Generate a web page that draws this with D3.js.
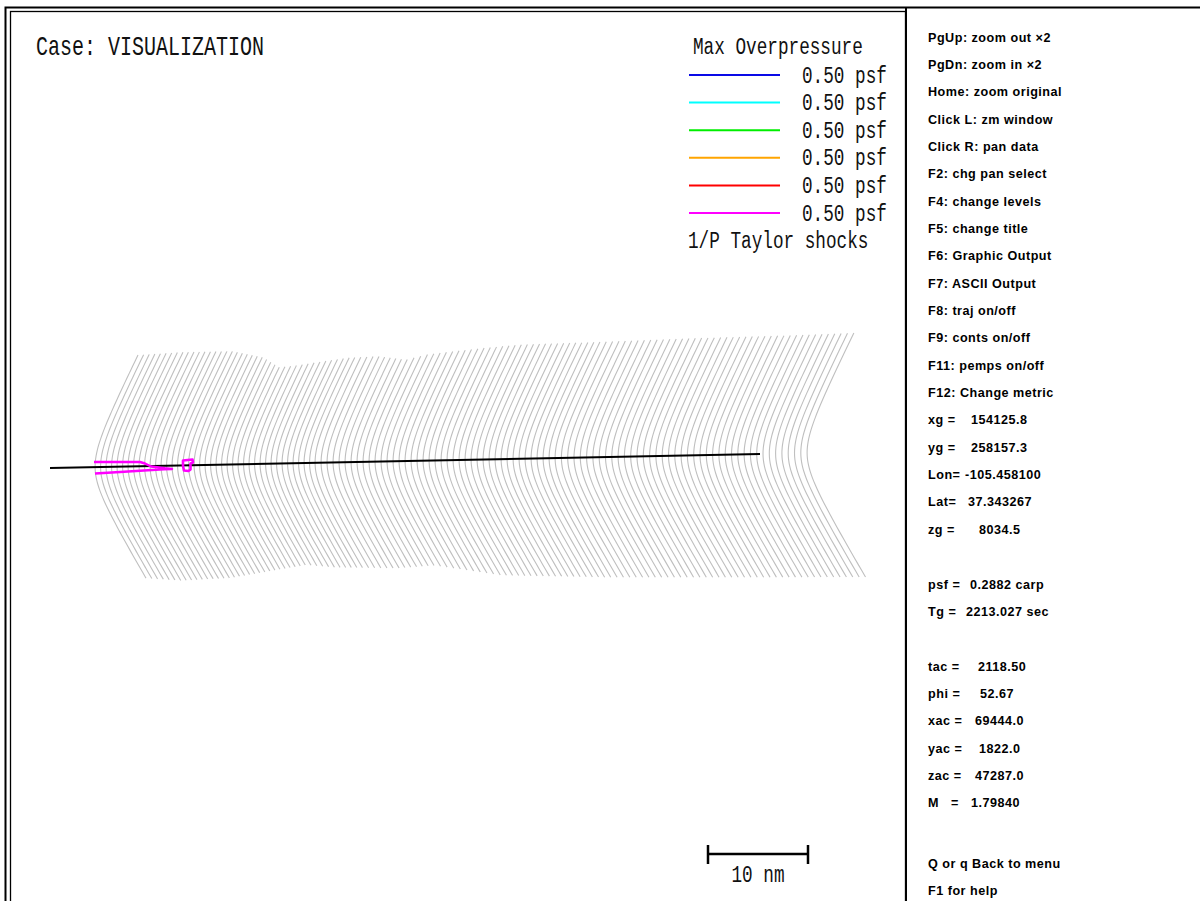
<!DOCTYPE html>
<html>
<head>
<meta charset="utf-8">
<script src="https://cdn.jsdelivr.net/npm/d3@7"></script>
<style>
  html, body { margin: 0; padding: 0; background: #fff; overflow: hidden; }
  .mono { font-family: "Liberation Mono", "DejaVu Sans Mono", monospace; fill: #111; }
  .panel { font-family: "Liberation Sans", Arial, sans-serif; font-weight: bold; font-size: 12.6px; letter-spacing: 0.5px; fill: #000; white-space: pre; }
</style>
</head>
<body>
<svg id="chart" width="1200" height="901"></svg>
<script>
// ---- Case / legend text ----
const caseTitle = "Case: VISUALIZATION";
const legendTitle = "Max Overpressure";
const legendLevels = [0.50, 0.50, 0.50, 0.50, 0.50, 0.50];
const legendColors = ["#0a0ae6", "#00ffff", "#00ee00", "#ffa500", "#ff0000", "#ff00ff"];
const legendFooter = "1/P Taylor shocks";

// ---- Ground track of the aircraft (nm, x east / y north) ----
const trackX = [4.0, 75.0];
const trackY = [-0.3, 1.1];

// ---- Isopemp (shock arrival) curves: along-track position of each vertex, nm ----
const isopempX = [
  8.50, 9.05, 9.60, 10.15, 10.70, 11.25, 11.80, 12.35, 12.90, 13.45,
  14.00, 14.55, 15.10, 15.65, 16.20, 16.75, 17.30, 17.85, 18.40, 18.95,
  19.50, 20.05, 20.60, 21.15, 21.70, 22.25, 22.80, 23.35, 23.90, 24.45,
  25.00, 25.55, 26.10, 26.65, 27.20, 27.75, 28.30, 28.85, 29.40, 29.95,
  30.5, 31.1, 31.7, 32.3, 32.9, 33.5, 34.1, 34.7, 35.3, 35.9,
  36.5, 37.1, 37.7, 38.3, 38.9, 39.5, 40.1, 40.7, 41.3, 41.9,
  42.5, 43.1, 43.7, 44.3, 44.9, 45.5, 46.1, 46.7, 47.3, 47.9,
  48.5, 49.1, 49.7, 50.3, 50.9, 51.5, 52.1, 52.7, 53.3, 53.9,
  54.50, 55.13, 55.76, 56.39, 57.02, 57.65, 58.28, 58.91, 59.54, 60.17,
  60.80, 61.43, 62.06, 62.69, 63.32, 63.95, 64.58, 65.21, 65.84, 66.47,
  67.10, 67.73, 68.36, 68.99, 69.62, 70.25, 70.88, 71.51, 72.14, 72.77,
  73.40, 74.03, 74.66, 75.29, 75.92, 76.55, 77.18, 77.81, 78.44, 79.07,
  79.70
];

// Lateral extent of the carpet north of the track (nm) vs. vertex position
const northEdgeX = [8.5, 12.8, 17.8, 21.3, 23.3, 24.8, 26.8, 29.8, 32.8, 35.8, 37.8, 42.8, 46.8, 54.8, 64.8, 74.8, 79.7];
const northEdgeW = [11.2, 11.4, 11.4, 10.7, 9.7, 9.8, 10.1, 10.5, 10.6, 10.2, 10.7, 11.2, 11.5, 11.6, 11.8, 11.9, 12.0];
// Lateral extent south of the track (nm)
const southEdgeX = [8.5, 11.8, 16.8, 21.8, 25.1, 27.8, 34.0, 37.8, 43.8, 53.8, 69.0, 80.0];
const southEdgeW = [11.1, 11.4, 11.25, 10.55, 10.1, 10.4, 10.6, 10.4, 11.5, 11.9, 12.2, 12.4];

// ---- 0.50 psf overpressure contour pieces (nm) ----
const contourArmX = [8.4, 13.0, 13.5, 14.1, 15.5, 16.2, 15.4, 14.2, 11.0, 8.5];
const contourArmY = [0.30, 0.30, 0.15, -0.15, -0.33, -0.40, -0.43, -0.50, -0.70, -0.85];
const contourLoopX = [17.3, 18.25, 18.3, 18.05, 18.05, 17.85, 17.4, 17.3];
const contourLoopY = [0.45, 0.55, 0.25, 0.15, -0.45, -0.60, -0.55, -0.10];

// ---- Scale bar ----
const scaleBarNm = 10;
const scaleBarLabel = "10 nm";

// ---- Side panel: key help and readouts ----
const keyHelp = [
  "PgUp: zoom out \u00d72", "PgDn: zoom in \u00d72", "Home: zoom original",
  "Click L: zm window", "Click R: pan data", "F2: chg pan select",
  "F4: change levels", "F5: change title", "F6: Graphic Output",
  "F7: ASCII Output", "F8: traj on/off", "F9: conts on/off",
  "F11: pemps on/off", "F12: Change metric"
];
const readoutLabels = ["xg =", "yg =", "Lon=", "Lat=", "zg =", "", "psf =", "Tg =", "", "tac =", "phi =", "xac =", "yac =", "zac =", "M   ="];
const readoutValues = ["154125.8", "258157.3", "-105.458100", "37.343267", "8034.5", "", "0.2882 carp", "2213.027 sec", "", "2118.50", "52.67", "69444.0", "1822.0", "47287.0", "1.79840"];
const footerLines = ["Q or q Back to menu", "F1 for help"];

// ====================================================================
const svg = d3.select("#chart");
svg.append("rect").attr("width", 1200).attr("height", 901).attr("fill", "#fff");

// map scales: 10 px per nautical mile, north up
const x = d3.scaleLinear().domain([0, 10]).range([10, 110]);
const y = d3.scaleLinear().domain([0, 10]).range([465, 365]);

const trackAt = d3.scaleLinear().domain(trackX).range(trackY);
const northW = d3.scaleLinear().domain(northEdgeX).range(northEdgeW).clamp(true);
const southW = d3.scaleLinear().domain(southEdgeX).range(southEdgeW).clamp(true);

// frames
svg.append("rect").attr("x", 5.5).attr("y", 7.5).attr("width", 1200).attr("height", 960)
  .attr("fill", "none").attr("stroke", "#000").attr("stroke-width", 2);
svg.append("rect").attr("x", 10.5).attr("y", 11.5).attr("width", 895).attr("height", 960)
  .attr("fill", "none").attr("stroke", "#000").attr("stroke-width", 1.3);
svg.append("line").attr("x1", 906).attr("x2", 906).attr("y1", 7).attr("y2", 901)
  .attr("stroke", "#000").attr("stroke-width", 2);

// ---- isopemp curves (hyperbolic arcs opening downstream) ----
const aN = 1.5, aS = 1.8, b = 3.0;
const samples = d3.range(-1, 1.0001, 0.05);
const line = d3.line().x(d => x(d[0])).y(d => y(d[1]));
const gCurves = svg.append("g");
isopempX.forEach(xc => {
  const yc = trackAt(xc);
  const wN = northW(xc), wS = southW(xc);
  const pts = samples.map(t => {
    if (t >= 0) {
      const h = t * wN;
      return [xc + aN * (Math.sqrt(1 + (h / b) ** 2) - 1), yc + h];
    }
    const h = -t * wS;
    return [xc + aS * (Math.sqrt(1 + (h / b) ** 2) - 1), yc - h];
  });
  gCurves.append("path").attr("d", line.curve(d3.curveBasis)(pts))
    .attr("fill", "none").attr("stroke", "#bfbfbf").attr("stroke-width", 1.1);
});

// ---- ground track ----
svg.append("path")
  .attr("d", d3.line().x(d => x(d[0])).y(d => y(d[1]))(trackX.map((v, i) => [v, trackY[i]])))
  .attr("fill", "none").attr("stroke", "#000").attr("stroke-width", 2);

// ---- 0.50 psf contour ----
const cLine = d3.line().x(d => x(d[0])).y(d => y(d[1]));
svg.append("path")
  .attr("d", cLine(contourArmX.map((v, i) => [v, contourArmY[i]])))
  .attr("fill", "none").attr("stroke", legendColors[5]).attr("stroke-width", 2.5)
  .attr("stroke-linejoin", "round");
svg.append("path")
  .attr("d", cLine.curve(d3.curveLinearClosed)(contourLoopX.map((v, i) => [v, contourLoopY[i]])))
  .attr("fill", "none").attr("stroke", legendColors[5]).attr("stroke-width", 2.6)
  .attr("stroke-linejoin", "round");

// ---- title ----
function monoText(str, px, py, size, anchor) {
  return svg.append("text").attr("class", "mono")
    .attr("transform", `translate(${px},${py}) scale(1,1.38)`)
    .attr("font-size", size).attr("text-anchor", anchor || "start").text(str);
}
monoText(caseTitle, 36, 54.5, 20);

// ---- legend ----
monoText(legendTitle, 693, 54, 17.7);
legendLevels.forEach((v, i) => {
  const ly = 75 + i * 27.6;
  svg.append("line").attr("x1", 689).attr("x2", 780).attr("y1", ly).attr("y2", ly)
    .attr("stroke", legendColors[i]).attr("stroke-width", 2);
  monoText(d3.format(".2f")(v) + " psf", 802, ly + 7.5, 17.7);
});
monoText(legendFooter, 688, 248, 17.7);

// ---- scale bar ----
const sbX0 = 708, sbY = 854;
const sbX1 = sbX0 + (x(scaleBarNm) - x(0));
svg.append("line").attr("x1", sbX0).attr("x2", sbX1).attr("y1", sbY).attr("y2", sbY)
  .attr("stroke", "#000").attr("stroke-width", 2.5);
[sbX0, sbX1].forEach(px => svg.append("line").attr("x1", px).attr("x2", px)
  .attr("y1", sbY - 9).attr("y2", sbY + 10).attr("stroke", "#000").attr("stroke-width", 2.5));
monoText(scaleBarLabel, (sbX0 + sbX1) / 2, 881.5, 17.7, "middle");

// ---- side panel ----
const rowStep = 27.35, rowTop = 37;
const valueCol = [971, 971, 965, 968, 979, 0, 970, 966, 0, 978, 980, 975, 979, 975, 971];
const rowY = i => rowTop + i * rowStep + 4.5;
keyHelp.forEach((s, i) => svg.append("text").attr("class", "panel").attr("x", 928).attr("y", rowY(i)).text(s));
readoutLabels.forEach((s, j) => {
  if (!s) return;
  const i = keyHelp.length + j;
  svg.append("text").attr("class", "panel").attr("x", 928).attr("y", rowY(i)).text(s);
  svg.append("text").attr("class", "panel").attr("x", valueCol[j]).attr("y", rowY(i)).text(readoutValues[j]);
});
footerLines.forEach((s, k) => {
  const i = keyHelp.length + readoutLabels.length + 1 + k;
  svg.append("text").attr("class", "panel").attr("x", 928).attr("y", rowY(i) + 5.5).text(s);
});
</script>
</body>
</html>
